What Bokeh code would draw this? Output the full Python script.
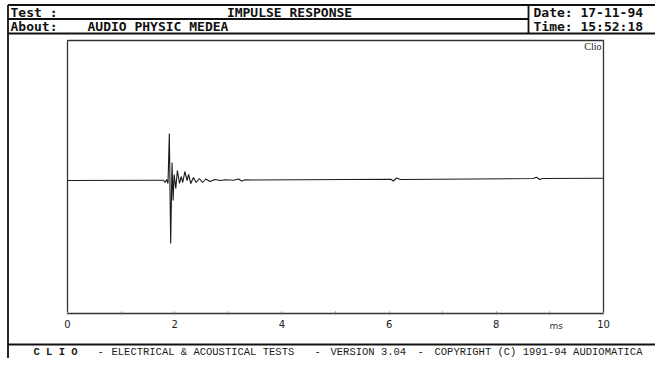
from bokeh.plotting import figure
from bokeh.models import Range1d, FixedTicker
from bokeh.core.properties import value
from bokeh.embed import file_html
from bokeh.resources import INLINE

# ---- data (time in ms, amplitude in arbitrary units) ----
time_ms = [0.0, 1.70, 1.79, 1.82, 1.85, 1.875, 1.90, 1.925, 1.95, 1.97, 1.99,
           2.02, 2.05, 2.09, 2.12, 2.15, 2.19, 2.23, 2.26, 2.30, 2.35, 2.40,
           2.46, 2.52, 2.58, 2.66, 2.75, 2.85, 2.95, 3.10, 3.19, 3.25, 3.32,
           3.45, 6.03, 6.08, 6.14, 6.21, 8.69, 8.75, 8.81, 8.86, 10.0]
amplitude = [0.0, 0.3, 0.3, -2.0, 1.0, -3.0, 47.0, -63.0, 18.0, -20.0, 6.0,
             -8.0, 10.0, -3.0, 4.0, -2.0, 9.0, 0.0, 6.0, -3.0, 3.0, -2.0,
             2.0, -2.0, 1.5, -1.0, 1.0, 0.0, 0.8, 0.2, 1.5, -0.5, 0.8,
             0.5, 1.2, -0.5, 2.5, 1.0, 2.0, 3.2, 1.0, 2.0, 2.3]
major_ticks = [0, 2, 4, 6, 8, 10]
minor_ticks = [1, 3, 5, 7, 9]
x_unit_label = "ms"
amp_min, amp_max = -133, 140          # extent of the plot box in amplitude units

header_title = "IMPULSE RESPONSE"
header_about = "AUDIO PHYSIC MEDEA"
header_date = "Date: 17-11-94"
header_time = "Time: 15:52:18"
footer_parts = ["C L I O", "-", "ELECTRICAL & ACOUSTICAL TESTS", "-",
                "VERSION 3.04", "-", "COPYRIGHT (C) 1991-94 AUDIOMATICA"]
footer_bold = [True, False, False, False, False, False, False]

# ---- layout (pixel coordinates on the canvas) ----
W, H = 655, 358
BOX_L, BOX_R, BOX_T, BOX_B = 67, 603, 40, 313
PX_PER_MS = (BOX_R - BOX_L) / 10.0
PX_PER_AMP = (BOX_B - BOX_T) / (amp_max - amp_min)
ZERO_Y = BOX_T + amp_max * PX_PER_AMP

x_range = Range1d(-BOX_L / PX_PER_MS, (W - BOX_L) / PX_PER_MS)
y_range = Range1d((ZERO_Y - H) / PX_PER_AMP, ZERO_Y / PX_PER_AMP)

p = figure(width=W, height=H, output_backend="svg", toolbar_location=None,
           x_range=x_range, y_range=y_range, y_axis_location=None,
           min_border=0)
p.extra_x_ranges = {"px": Range1d(0, W)}
p.extra_y_ranges = {"px": Range1d(H, 0)}
p.background_fill_color = "white"
p.border_fill_color = "white"
p.outline_line_color = None
p.xgrid.visible = False
p.ygrid.visible = False

ax = p.xaxis[0]
ax.fixed_location = amp_min
ax.bounds = (0, 10)
ax.ticker = FixedTicker(ticks=major_ticks, minor_ticks=minor_ticks)
ax.axis_line_color = "#333333"
ax.axis_line_width = 1.3
ax.major_tick_in = 2
ax.major_tick_out = 1
ax.minor_tick_in = 2
ax.minor_tick_out = 1
ax.major_tick_line_color = "#777777"
ax.minor_tick_line_color = "#777777"
ax.major_label_text_font = "DejaVu Sans"
ax.major_label_text_font_size = "10px"
ax.major_label_text_color = "#222222"
ax.major_label_standoff = 5

# plot box (top, left, right sides; the axis draws the bottom)
p.line([0, 0, 10, 10], [amp_min, amp_max, amp_max, amp_min],
       line_color="#333333", line_width=1.3)

# trace
p.line(time_ms, amplitude, line_color="#1a1a1a", line_width=1.1)

# unit label on the axis, and the "Clio" mark
p.text(x=[9.12], y=[325], text=[x_unit_label], y_range_name="px",
       text_align="center", text_baseline="middle",
       text_font=value("DejaVu Sans"), text_font_size="9px", text_color="#333333")
p.text(x=[601], y=[46], text=["Clio"], x_range_name="px", y_range_name="px",
       text_align="right", text_baseline="middle",
       text_font=value("Liberation Serif"), text_font_size="10px", text_color="#222222")

# frame lines of the screen (header, left border, footer)
DIV_X = 528
FOOT_Y = 344
seg_x0 = [7.5, 7.5, 7.5, 7.5, DIV_X, 7.5]
seg_y0 = [4.5, 18.5, 33, 4.5, 4.5, FOOT_Y]
seg_x1 = [W, DIV_X, W, 7.5, DIV_X, W]
seg_y1 = [4.5, 18.5, 33, H, 33, FOOT_Y]
p.segment(seg_x0, seg_y0, seg_x1, seg_y1, x_range_name="px", y_range_name="px",
          line_color="#111111", line_width=1.8)


def txt(xs, ys, ss, size, bold, font, align="left", color="#111111"):
    p.text(x=xs, y=ys, text=ss, x_range_name="px", y_range_name="px",
           text_align=align, text_baseline="middle", text_font=value(font),
           text_font_size=size, text_font_style="bold" if bold else "normal",
           text_color=color)


txt([10, 10, 87, DIV_X + 5, DIV_X + 5], [11.5, 26, 26, 11.5, 26],
    ["Test :", "About:", header_about, header_date, header_time],
    "13px", True, "DejaVu Sans Mono")
txt([289], [11.5], [header_title], "13px", True, "DejaVu Sans Mono", align="center")

footer_x = [33, 97, 111, 314, 330, 417, 434]
for s, X, b in zip(footer_parts, footer_x, footer_bold):
    txt([X], [351], [s], "10.5px", b, "Liberation Mono", color="#1a1a1a")

open("out.html", "w").write(file_html(p, INLINE))
